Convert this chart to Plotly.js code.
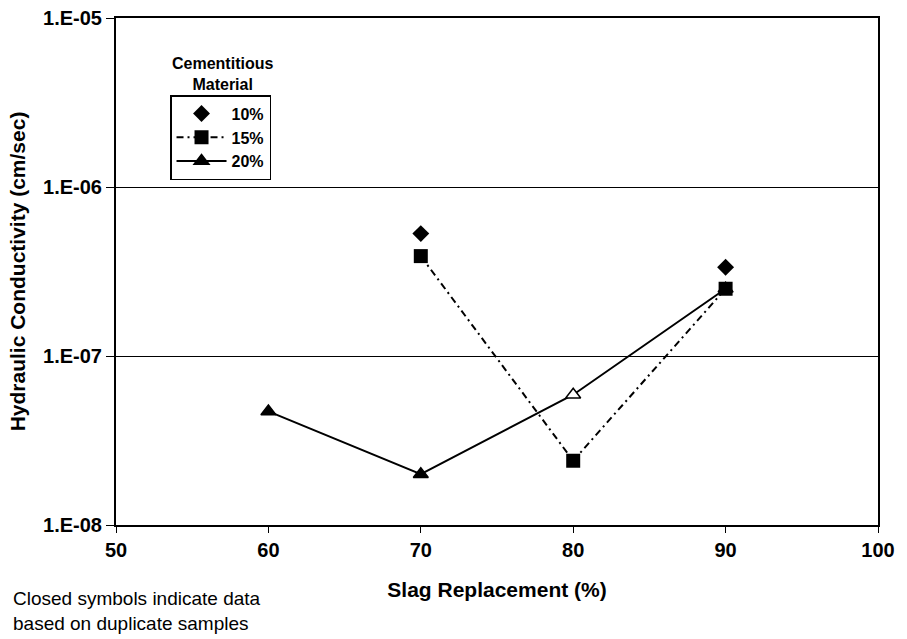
<!DOCTYPE html>
<html>
<head>
<meta charset="utf-8">
<script src="https://cdn.plot.ly/plotly-3.0.1.min.js"></script>
<style>html,body{margin:0;padding:0;background:#fff;}#chart{width:907px;height:639px;}</style>
</head>
<body>
<div id="chart"></div>
<script>
// Data
const seriesNames = ["10%", "15%", "20%"];
const x10 = [70, 90];
const y10 = [5.3e-7, 3.35e-7];
const x15 = [70, 80, 90];
const y15 = [3.9e-7, 2.4e-8, 2.5e-7];
const x20 = [60, 70, 80, 90];
const y20 = [4.7e-8, 2.0e-8, 5.9e-8, 2.5e-7];
const closed20 = [true, true, false, true];
const yTickVals = [1e-8, 1e-7, 1e-6, 1e-5];
const yTickText = ["1.E-08", "1.E-07", "1.E-06", "1.E-05"];
const xTickVals = [50, 60, 70, 80, 90, 100];

const font = {family: "Liberation Sans, Arial, sans-serif", color: "#000"};
const f = (size, weight) => Object.assign({size: size, weight: weight || "normal"}, font);

const traces = [
  {
    name: seriesNames[2], x: x20, y: y20, type: "scatter", mode: "lines+markers",
    line: {color: "#000", width: 2},
    marker: {symbol: "triangle-up", size: 13,
      color: closed20.map(c => c ? "#000" : "#fff"),
      line: {color: "#000", width: 1.5}},
    legendrank: 3
  },
  {
    name: seriesNames[1], x: x15, y: y15, type: "scatter", mode: "lines+markers",
    line: {color: "#000", width: 2, dash: "7px,4px,2px,4px"},
    marker: {symbol: "square", size: 14, color: "#000"},
    legendrank: 2
  },
  {
    name: seriesNames[0], x: x10, y: y10, type: "scatter", mode: "markers",
    marker: {symbol: "diamond", size: 13, color: "#000"},
    legendrank: 1
  }
];

const layout = {
  width: 907, height: 639,
  margin: {l: 116, r: 29, t: 18, b: 114},
  paper_bgcolor: "#fff", plot_bgcolor: "#fff",
  showlegend: true,
  legend: {
    x: 0.0709, y: 0.848, xanchor: "left", yanchor: "top",
    bordercolor: "#000", borderwidth: 1.5, bgcolor: "#fff",
    font: f(16, "bold"),
    itemwidth: 50, tracegroupgap: 0
  },
  xaxis: {
    range: [50, 100], tickvals: xTickVals, ticks: "outside", ticklen: 6,
    tickcolor: "#000", showline: true, linecolor: "#000", linewidth: 2, mirror: true,
    showgrid: false, zeroline: false,
    tickfont: f(20, "bold"),
    title: {text: "Slag Replacement (%)", font: f(21, "bold"), standoff: 22}
  },
  yaxis: {
    type: "log", range: [-8, -5], tickvals: yTickVals, ticktext: yTickText,
    ticks: "outside", ticklen: 8, tickcolor: "#000",
    showline: true, linecolor: "#000", linewidth: 2, mirror: true,
    showgrid: true, gridcolor: "#000", gridwidth: 1,
    zeroline: false,
    tickfont: f(20, "bold"),
    title: {text: "Hydraulic Conductivity (cm/sec)", font: f(21, "bold"), standoff: 12}
  },
  annotations: [
    {text: "Cementitious<br>Material", xref: "paper", yref: "paper",
     x: 0.14, y: 0.848, xanchor: "center", yanchor: "bottom", showarrow: false,
     font: f(16, "bold")},
    {text: "Closed symbols indicate data<br>based on duplicate samples", xref: "paper", yref: "paper",
     x: -0.138, y: -0.12, xanchor: "left", yanchor: "top", align: "left", showarrow: false,
     font: f(19)}
  ]
};

Plotly.newPlot("chart", traces, layout, {displayModeBar: false, staticPlot: true});
</script>
</body>
</html>
